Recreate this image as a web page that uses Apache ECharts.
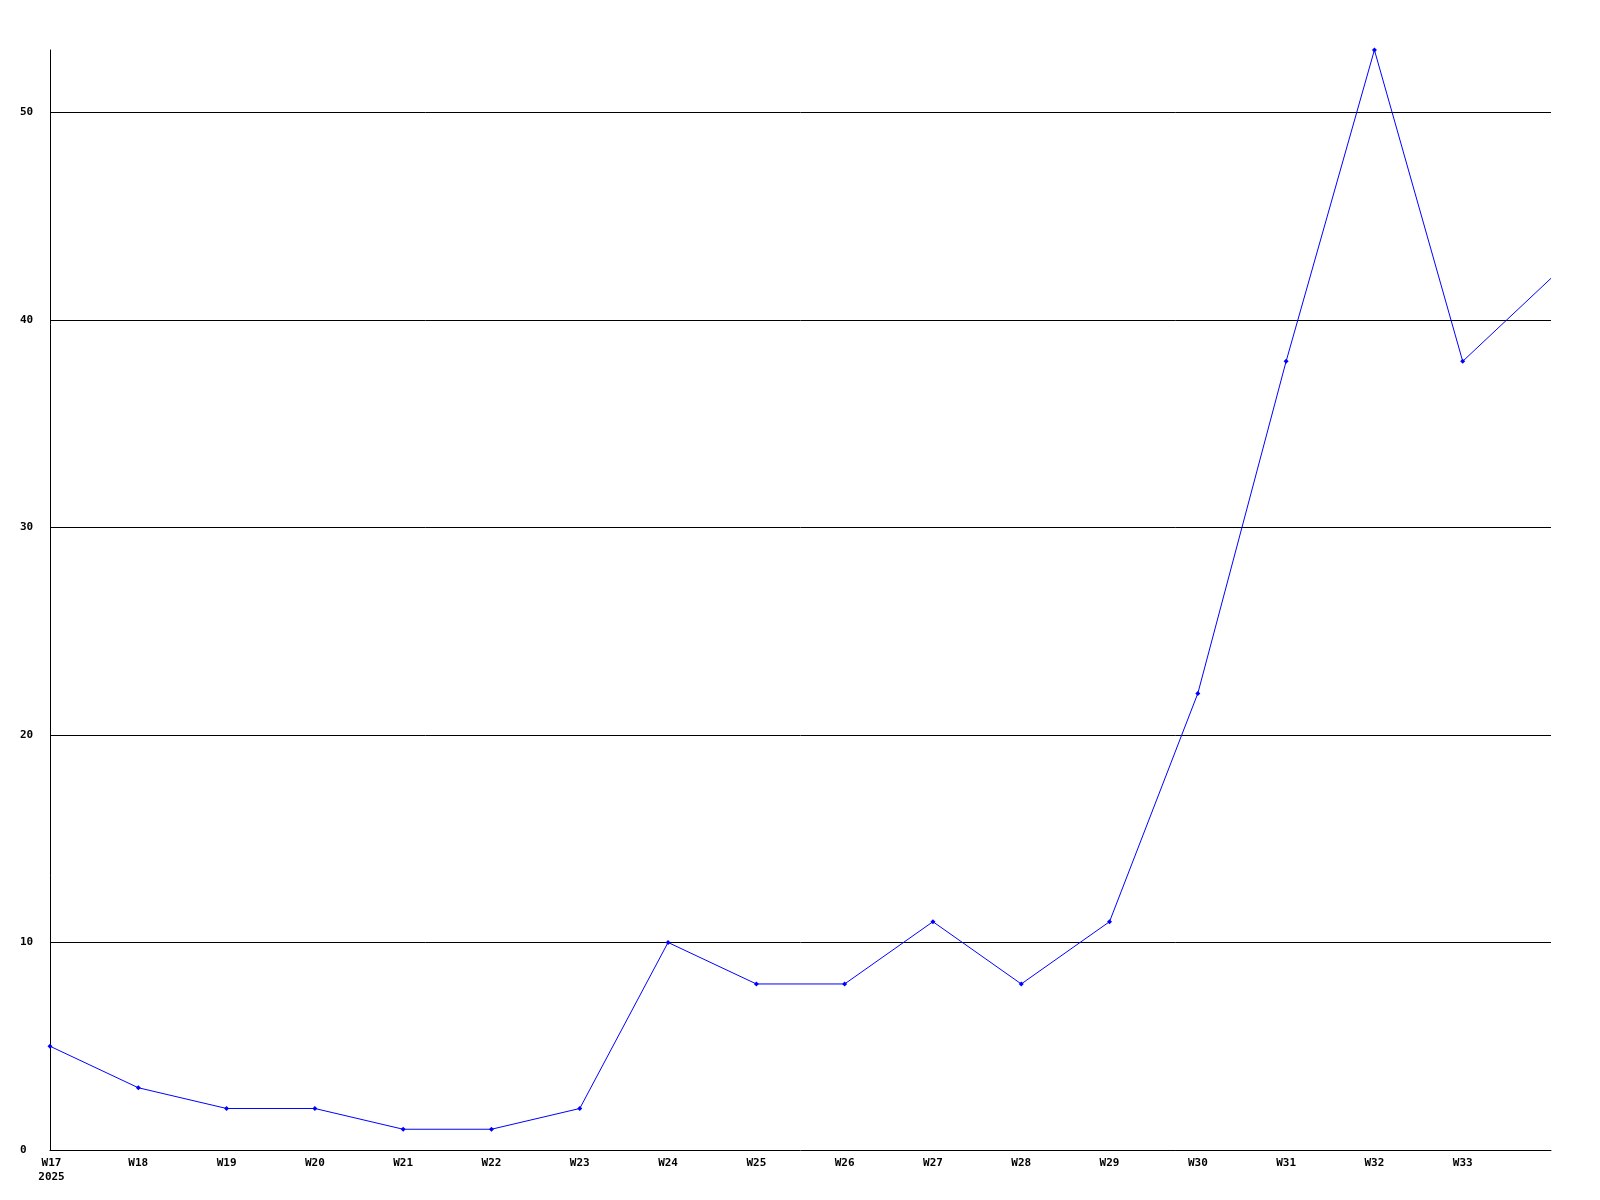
<!DOCTYPE html>
<html>
<head>
<meta charset="utf-8">
<script src="https://cdn.jsdelivr.net/npm/echarts@6/dist/echarts.min.js"></script>
<style>
html,body{margin:0;padding:0;background:#fff;}
#c{width:1600px;height:1200px;}
</style>
</head>
<body>
<div id="c"></div>
<script>
const categories = ['W17','W18','W19','W20','W21','W22','W23','W24','W25','W26','W27','W28','W29','W30','W31','W32','W33','W34'];
const values = [5,3,2,2,1,1,2,10,8,8,11,8,11,22,38,53,38,42];
const yearLabel = '2025';
const yTicks = [0,10,20,30,40,50];

const FONT = 'DejaVu Sans Mono';
const chart = echarts.init(document.getElementById('c'), null, {renderer:'canvas'});
const lastIdx = categories.length - 1;

chart.setOption({
  animation: false,
  backgroundColor: '#ffffff',
  grid: {left: 50, right: 49, top: 50, bottom: 50, containLabel: false},
  xAxis: {
    type: 'category',
    data: categories,
    boundaryGap: false,
    axisLine: {show: true, lineStyle: {color: '#000', width: 1}},
    axisTick: {show: false},
    splitLine: {show: false},
    axisLabel: {
      interval: 0,
      margin: 6,
      color: '#000',
      fontFamily: FONT,
      fontWeight: 'bold',
      fontSize: 11,
      lineHeight: 14,
      formatter: function (v, i) {
        if (i === lastIdx) return '';
        if (i === 0) return '{s| }{a|' + v + '}\n{s| }{a|' + yearLabel + '}';
        return v;
      },
      rich: {
        s: {width: 3, fontSize: 11, lineHeight: 14},
        a: {align: 'left', fontFamily: FONT, fontWeight: 'bold', fontSize: 11, color: '#000', lineHeight: 14}
      }
    }
  },
  yAxis: {
    type: 'value',
    min: 0,
    max: 53,
    interval: 10,
    axisLine: {show: true, lineStyle: {color: '#000', width: 1}},
    axisTick: {show: false},
    splitLine: {show: true, showMinLine: false, showMaxLine: false, lineStyle: {color: '#000', width: 1}},
    axisLabel: {
      showMaxLabel: true,
      align: 'left',
      margin: 30,
      color: '#000',
      fontFamily: FONT,
      fontWeight: 'bold',
      fontSize: 11,
      formatter: function (v) { return yTicks.indexOf(v) >= 0 ? String(v) : ''; }
    }
  },
  series: [{
    type: 'line',
    data: values.map(function (v, i) {
      return i === lastIdx ? {value: v, symbol: 'none'} : v;
    }),
    symbol: 'diamond',
    symbolSize: 5,
    showAllSymbol: true,
    lineStyle: {color: '#0000ff', width: 1},
    itemStyle: {color: '#0000ff'},
    emphasis: {disabled: true}
  }]
});
</script>
</body>
</html>
